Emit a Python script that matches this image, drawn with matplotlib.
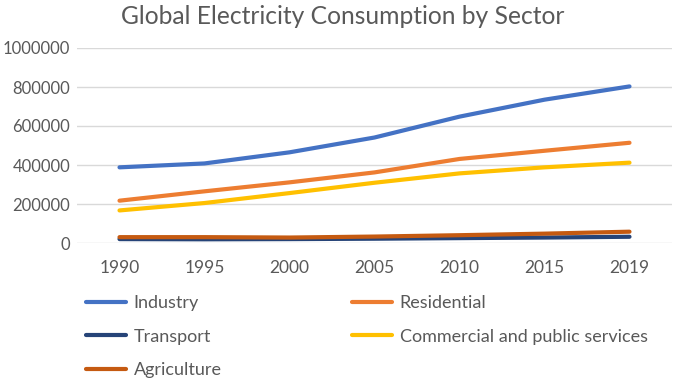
import numpy as np
import matplotlib.pyplot as plt

plt.rcParams['font.family'] = ['Lato', 'DejaVu Sans']

# data
years = ['1990', '1995', '2000', '2005', '2010', '2015', '2019']
industry = [388000, 408000, 465000, 541000, 648000, 735000, 803000]
residential = [217000, 265000, 311000, 362000, 431000, 473000, 514000]
transport = [20000, 19000, 20000, 22000, 25000, 28000, 32000]
commercial = [167000, 205000, 256000, 309000, 357000, 388000, 412000]
agriculture = [30000, 30000, 28000, 33000, 40000, 48000, 58000]

txt = '#595959'
fig = plt.figure(figsize=(6.85, 3.79), dpi=100)
ax = fig.add_axes([77/685, 1 - 243/379, 595/685, 195/379])

x = np.arange(len(years))
l_ind, = ax.plot(x, industry, color='#4472C4', lw=3, label='Industry', solid_capstyle='round')
l_res, = ax.plot(x, residential, color='#ED7D31', lw=3, label='Residential', solid_capstyle='round')
l_tra, = ax.plot(x, transport, color='#264478', lw=3, label='Transport', solid_capstyle='round')
l_com, = ax.plot(x, commercial, color='#FFC000', lw=3, label='Commercial and public services', solid_capstyle='round')
l_agr, = ax.plot(x, agriculture, color='#C55A11', lw=3, label='Agriculture', solid_capstyle='round')

ax.set_xlim(-0.5, 6.5)
ax.set_ylim(0, 1000000)
ax.set_yticks(np.arange(0, 1000001, 200000))
ax.set_yticklabels([str(v) for v in range(0, 1000001, 200000)])
ax.set_xticks(x)
ax.set_xticklabels(years)
ax.tick_params(length=0, labelsize=12.5, labelcolor=txt)
ax.tick_params(axis='x', pad=12)
ax.tick_params(axis='y', pad=5, labelsize=12)
ax.grid(axis='y', color='#D9D9D9', lw=1)
ax.set_axisbelow(True)
for s in ax.spines.values():
    s.set_visible(False)

fig.text(0.5, 1 - 17/379, 'Global Electricity Consumption by Sector', ha='center', va='center',
         fontsize=17.7, color=txt)

fig.legend([l_ind, l_tra, l_agr, l_res, l_com],
           ['Industry', 'Transport', 'Agriculture', 'Residential', 'Commercial and public services'],
           ncol=2, loc='upper left', bbox_to_anchor=(86/685, 1 - 295/379), frameon=False,
           fontsize=13, labelcolor=txt, handlelength=2.2, handletextpad=0.45,
           columnspacing=7.2, labelspacing=0.97, borderaxespad=0, borderpad=0)

fig.savefig('out.png', dpi=100)
